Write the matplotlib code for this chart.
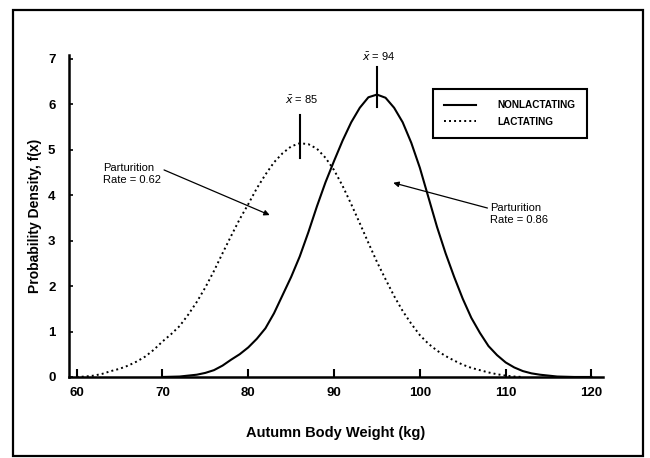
import matplotlib
matplotlib.use("Agg")
import matplotlib.pyplot as plt
from matplotlib.patches import Rectangle

plt.rcParams['font.family'] = ['Liberation Sans', 'DejaVu Sans']

# values (kg, density x100)
weight_nonlact = [70, 71, 72, 73, 74, 75, 76, 77, 78, 79, 80, 81, 82, 83, 84, 85, 86, 87,
                  88, 89, 90, 91, 92, 93, 94, 95, 96, 97, 98, 99, 100, 101, 102, 103, 104,
                  105, 106, 107, 108, 109, 110, 111, 112, 113, 114, 115, 116, 117, 118, 120]
dens_nonlact = [0.0, 0.005, 0.01, 0.03, 0.05, 0.09, 0.15, 0.25, 0.38, 0.5, 0.65, 0.84,
                1.07, 1.4, 1.8, 2.2, 2.65, 3.18, 3.75, 4.28, 4.75, 5.2, 5.6, 5.92, 6.15,
                6.21, 6.14, 5.92, 5.6, 5.15, 4.6, 3.95, 3.3, 2.72, 2.2, 1.72, 1.3, 0.97,
                0.68, 0.48, 0.32, 0.21, 0.13, 0.08, 0.05, 0.03, 0.01, 0.005, 0.0, 0.0]

weight_lact = [60, 61, 62, 63, 64, 65, 66, 67, 68, 69, 70, 71, 72, 73, 74, 75, 76, 77, 78,
               79, 80, 81, 82, 83, 84, 85, 86, 87, 88, 89, 90, 91, 92, 93, 94, 95, 96, 97,
               98, 99, 100, 101, 102, 103, 104, 105, 106, 107, 108, 109, 110, 111, 112]
dens_lact = [0.0, 0.01, 0.03, 0.07, 0.13, 0.18, 0.25, 0.34, 0.45, 0.6, 0.78, 0.94, 1.12,
             1.37, 1.65, 1.97, 2.33, 2.72, 3.1, 3.47, 3.8, 4.15, 4.45, 4.72, 4.92, 5.07,
             5.14, 5.12, 5.02, 4.82, 4.55, 4.2, 3.8, 3.38, 2.95, 2.53, 2.15, 1.78, 1.45,
             1.17, 0.92, 0.73, 0.58, 0.46, 0.36, 0.27, 0.2, 0.15, 0.1, 0.06, 0.03, 0.01, 0.0]

series_labels = ["NONLACTATING", "LACTATING"]
mean_labels = [r"$\bar{x}$ = 94", r"$\bar{x}$ = 85"]
rate_labels = ["Parturition\nRate = 0.86", "Parturition\nRate = 0.62"]
xticks = [60, 70, 80, 90, 100, 110, 120]
yticks = [0, 1, 2, 3, 4, 5, 6, 7]

fig = plt.figure(figsize=(6.5, 4.58), dpi=100)
ax = fig.add_axes([0.1066, 0.1769, 0.821, 0.703])

# scanned page frame
fig.patches.append(Rectangle((13 / 650, 2 / 458), 630 / 650, 446 / 458,
                             transform=fig.transFigure, fill=False,
                             edgecolor='black', linewidth=1.6))

ax.plot(weight_nonlact, dens_nonlact, color='black', lw=1.5, label=series_labels[0])
ax.plot(weight_lact, dens_lact, color='black', lw=1.4, linestyle=(0, (1, 1.6)),
        label=series_labels[1])

ax.set_xlim(59.14, 121.34)
ax.set_ylim(0, 7.08)
ax.set_xticks(xticks)
ax.set_yticks(yticks)
for s in ['top', 'right']:
    ax.spines[s].set_visible(False)
for s in ['left', 'bottom']:
    ax.spines[s].set_linewidth(1.8)
ax.tick_params(axis='x', direction='in', length=6, width=1.5, pad=7, labelsize=9.5)
ax.tick_params(axis='y', direction='in', length=3, width=1.2, pad=10, labelsize=9.5)
for lab in ax.get_xticklabels() + ax.get_yticklabels():
    lab.set_fontweight('bold')

ax.set_xlabel("Autumn Body Weight (kg)", fontsize=10.5, fontweight='bold', labelpad=20)
ax.set_ylabel("Probability Density, f(x)", fontsize=10, fontweight='bold', labelpad=4)

# mean markers above each peak
for xs, ys, lab, lo, hi, ty in [(weight_nonlact, dens_nonlact, mean_labels[0], -0.27, 0.6, 0.83),
                                (weight_lact, dens_lact, mean_labels[1], -0.33, 0.62, 0.95)]:
    i = ys.index(max(ys))
    ax.plot([xs[i], xs[i]], [ys[i] + lo, ys[i] + hi], color='black', lw=1.5)
    ax.text(xs[i] + 0.2, ys[i] + ty, lab, ha='center', va='center', fontsize=8)

ax.annotate(rate_labels[1], xy=(82.5, 3.56), xytext=(63.1, 4.46),
            ha='left', va='center', fontsize=8, linespacing=1.2,
            arrowprops=dict(arrowstyle='-|>', color='black', lw=0.9,
                            shrinkA=0, shrinkB=0, mutation_scale=8,
                            relpos=(1.0, 0.75)))
ax.annotate(rate_labels[0], xy=(96.9, 4.27), xytext=(108.2, 3.58),
            ha='left', va='center', fontsize=8, linespacing=1.2,
            arrowprops=dict(arrowstyle='-|>', color='black', lw=0.9,
                            shrinkA=0, shrinkB=0, mutation_scale=8,
                            relpos=(0.0, 0.75)))

leg = ax.legend(loc='upper left', bbox_to_anchor=(0.681, 0.893),
                prop={'weight': 'bold', 'size': 7.2}, handlelength=3.2,
                handletextpad=2.2, borderpad=1.1, labelspacing=0.65,
                fancybox=False, framealpha=1, edgecolor='black', borderaxespad=0)
leg.get_frame().set_linewidth(1.5)

fig.savefig("out.png", dpi=100)
